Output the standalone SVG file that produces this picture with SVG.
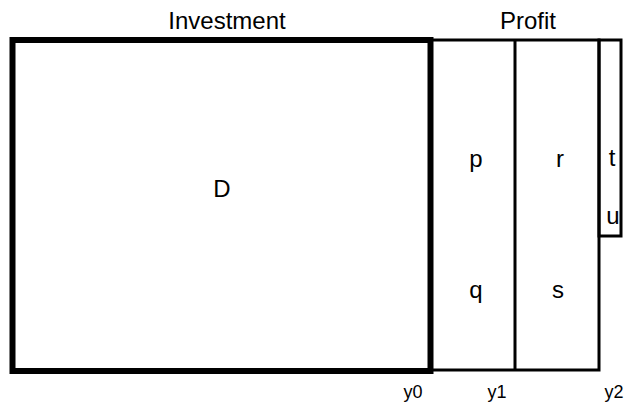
<svg xmlns="http://www.w3.org/2000/svg" width="626" height="402" viewBox="0 0 626 402">
<style>
.t{font-family:"Liberation Sans",Arial,sans-serif;font-size:24px;fill:#000;text-anchor:middle}
.a{font-family:"Liberation Sans",Arial,sans-serif;font-size:18px;fill:#000;text-anchor:middle}
.thin{fill:none;stroke:#000;stroke-width:3}
.thick{fill:none;stroke:#000;stroke-width:6}
</style>
<rect width="626" height="402" fill="#fff"/>
<g id="profit">
<rect class="thin" x="431" y="40" width="168" height="330"/>
<line class="thin" x1="515" y1="40" x2="515" y2="370"/>
<rect class="thin" x="599" y="40" width="22" height="196"/>
</g>
<g id="investment">
<rect class="thick" x="12.5" y="40" width="418" height="331"/>
</g>
<g id="labels">
<text class="t" x="227" y="29">Investment</text>
<text class="t" x="528" y="29">Profit</text>
<text class="t" x="222" y="197">D</text>
<text class="t" x="476" y="167">p</text>
<text class="t" x="560" y="167">r</text>
<text class="t" x="612" y="166">t</text>
<text class="t" x="613" y="224">u</text>
<text class="t" x="476" y="298">q</text>
<text class="t" x="558" y="298">s</text>
<text class="a" x="413" y="398">y0</text>
<text class="a" x="497" y="398">y1</text>
<text class="a" x="614" y="398">y2</text>
</g>
</svg>
